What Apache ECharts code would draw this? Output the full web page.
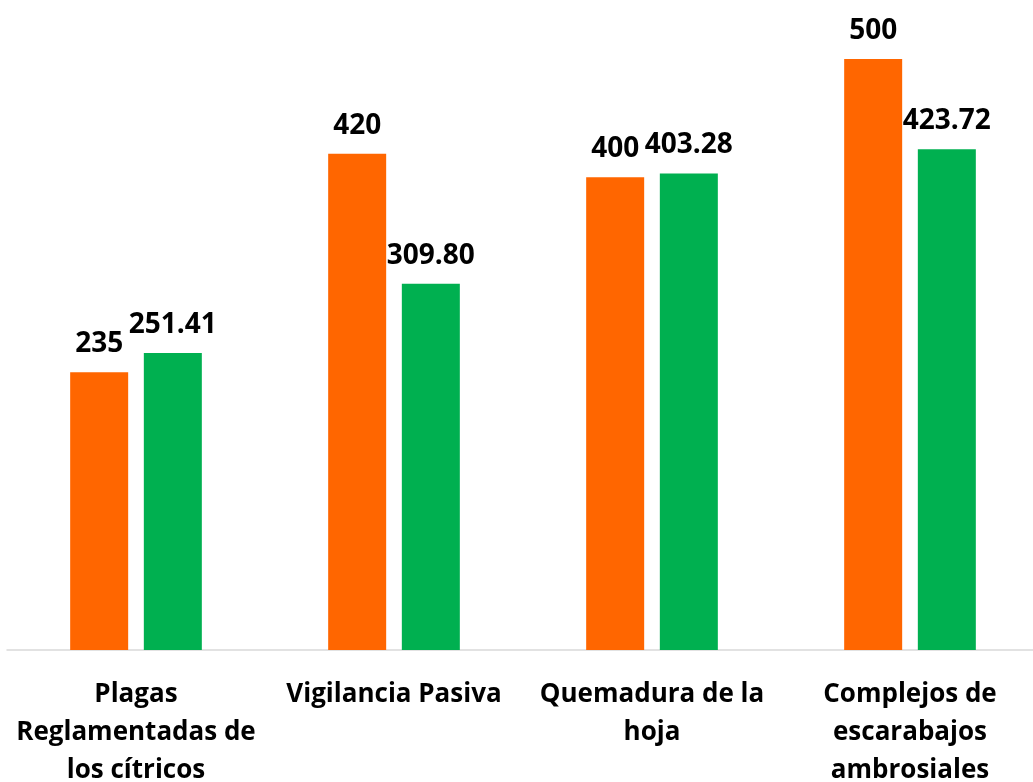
<!DOCTYPE html>
<html>
<head>
<meta charset="utf-8">
<script src="https://cdn.jsdelivr.net/npm/echarts@6/dist/echarts.min.js"></script>
<style>html,body{margin:0;padding:0;background:#fff;}#chart{width:1033px;height:782px;}</style>
</head>
<body>
<div id="chart"></div>
<script>
const categories = ["Plagas\nReglamentadas de\nlos cítricos", "Vigilancia Pasiva", "Quemadura de la\nhoja", "Complejos de\nescarabajos\nambrosiales"];
const seriesA = [235, 420, 400, 500];
const seriesB = [251.41, 309.80, 403.28, 423.72];
const labelsA = ["235", "420", "400", "500"];
const labelsB = ["251.41", "309.80", "403.28", "423.72"];

const chart = echarts.init(document.getElementById('chart'));
const labelFont = { fontFamily: 'Open Sans', fontWeight: 'bold', fontSize: 28, color: '#000' };
chart.setOption({
  animation: false,
  grid: { left: 7, width: 1032, top: 0, height: 650, containLabel: false, outerBoundsMode: 'none' },
  xAxis: {
    type: 'category',
    data: categories,
    axisLine: { show: true, lineStyle: { color: '#d9d9d9', width: 1.5 } },
    axisTick: { show: false },
    axisLabel: { interval: 0, margin: 26, fontFamily: 'Open Sans', fontWeight: 'bold', fontSize: 26, lineHeight: 38, color: '#000' }
  },
  yAxis: { type: 'value', min: 0, max: 550, show: false, splitLine: { show: false } },
  series: [
    { type: 'bar', data: seriesA, barWidth: 58, barGap: '27%', itemStyle: { color: '#FF6600' },
      label: { show: true, position: 'top', distance: 14, ...labelFont, formatter: p => labelsA[p.dataIndex] } },
    { type: 'bar', data: seriesB, barWidth: 58, barGap: '27%', itemStyle: { color: '#00B050' },
      label: { show: true, position: 'top', distance: 14, ...labelFont, formatter: p => labelsB[p.dataIndex] } }
  ]
});
</script>
</body>
</html>
